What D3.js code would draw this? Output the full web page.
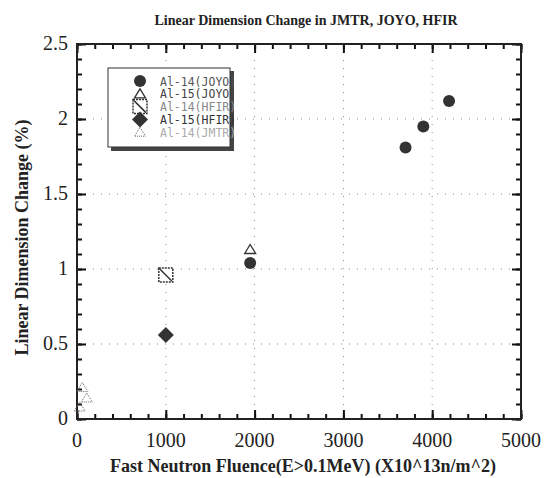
<!DOCTYPE html>
<html lang="en">
<head>
  <meta charset="UTF-8">
  <title>Linear Dimension Change in JMTR, JOYO, HFIR</title>
  <script src="https://d3js.org/d3.v7.min.js"></script>
  <style>
    body { margin: 0; background: #fff; }
    svg text { font-family: "Liberation Serif", "DejaVu Serif", serif; fill: #222; }
    .legend text { font-family: "DejaVu Sans Mono", monospace; }
    .grid line { stroke: #888; stroke-width: 1; stroke-dasharray: 1 7; }
    .ax .domain { display: none; }
    .ax line { stroke: #111; stroke-width: 2; }
  </style>
</head>
<body>
  <div id="chart"></div>
  <script>
    // series values
    const al14Joyo = [[1950, 1.04], [3700, 1.81], [3900, 1.95], [4190, 2.12]];
    const al15Joyo = [[1950, 1.13]];
    const al14Hfir = [[1000, 0.96]];
    const al15Hfir = [[1000, 0.56]];
    const al14Jmtr = [[60, 0.21], [110, 0.14], [30, 0.08]];

    const xTicks = [0, 1000, 2000, 3000, 4000, 5000];
    const yTicks = [0, 0.5, 1, 1.5, 2, 2.5];
    const yTickLabels = ["0", "0.5", "1", "1.5", "2", "2.5"];
    const legendLabels = ["Al-14(JOYO)", "Al-15(JOYO)", "Al-14(HFIR)", "Al-15(HFIR)", "Al-14(JMTR)"];

    const width = 555, height = 478;
    const margin = { top: 44, right: 34, bottom: 59, left: 77 };
    const plotW = width - margin.left - margin.right;
    const plotH = height - margin.top - margin.bottom;

    const svg = d3.select("#chart").append("svg")
      .attr("width", width)
      .attr("height", height);

    const g = svg.append("g")
      .attr("transform", `translate(${margin.left},${margin.top})`);

    const x = d3.scaleLinear().domain([0, 5000]).range([0, plotW]);
    const y = d3.scaleLinear().domain([0, 2.5]).range([plotH, 0]);

    // dotted grid at major ticks
    const grid = g.append("g").attr("class", "grid");
    grid.selectAll(".gx").data(xTicks.slice(1, -1)).enter().append("line")
      .attr("class", "gx")
      .attr("x1", d => x(d)).attr("x2", d => x(d))
      .attr("y1", 0).attr("y2", plotH);
    grid.selectAll(".gy").data(yTicks.slice(1, -1)).enter().append("line")
      .attr("class", "gy")
      .attr("y1", d => y(d)).attr("y2", d => y(d))
      .attr("x1", 0).attr("x2", plotW);

    // inward ticks on all four sides (minor, then major)
    const minorX = d3.range(0, 26).map(i => i * 200);
    const minorY = d3.range(0, 26).map(i => i / 10);

    function addAxis(axisFn, scale, values, size, tf) {
      g.append("g").attr("class", "ax").attr("transform", tf)
        .call(axisFn(scale).tickValues(values).tickSize(size).tickFormat(""));
    }
    addAxis(d3.axisBottom, x, minorX, -5, `translate(0,${plotH})`);
    addAxis(d3.axisBottom, x, xTicks, -9, `translate(0,${plotH})`);
    addAxis(d3.axisTop, x, minorX, -5, "translate(0,0)");
    addAxis(d3.axisTop, x, xTicks, -9, "translate(0,0)");
    addAxis(d3.axisLeft, y, minorY, -5, "translate(0,0)");
    addAxis(d3.axisLeft, y, yTicks, -9, "translate(0,0)");
    addAxis(d3.axisRight, y, minorY, -5, `translate(${plotW},0)`);
    addAxis(d3.axisRight, y, yTicks, -9, `translate(${plotW},0)`);

    // frame
    g.append("rect")
      .attr("width", plotW).attr("height", plotH)
      .attr("fill", "none").attr("stroke", "#222").attr("stroke-width", 2);

    // tick labels
    g.selectAll(".xl").data(xTicks).enter().append("text")
      .attr("x", d => x(d)).attr("y", plotH + 28)
      .attr("text-anchor", "middle").attr("font-size", 20)
      .text(d => d);
    g.selectAll(".yl").data(yTicks).enter().append("text")
      .attr("x", -9).attr("y", d => y(d) + 6)
      .attr("text-anchor", "end").attr("font-size", 20)
      .text((d, i) => yTickLabels[i]);

    // titles
    svg.append("text")
      .attr("x", 306).attr("y", 25)
      .attr("text-anchor", "middle").attr("font-size", 14).attr("font-weight", "bold")
      .text("Linear Dimension Change in JMTR, JOYO, HFIR");
    svg.append("text")
      .attr("x", 303).attr("y", 472)
      .attr("text-anchor", "middle").attr("font-size", 18).attr("font-weight", "bold")
      .text("Fast Neutron Fluence(E>0.1MeV) (X10^13n/m^2)");
    svg.append("text")
      .attr("transform", `translate(28,${margin.top + plotH / 2 + 6}) rotate(-90)`)
      .attr("text-anchor", "middle").attr("font-size", 18).attr("font-weight", "bold")
      .text("Linear Dimension Change (%)");

    // marker drawers
    const dark = "#333";
    function drawCircle(sel) {
      sel.append("circle").attr("r", 6).attr("fill", dark);
    }
    function drawOpenTriangle(sel) {
      sel.append("path").attr("d", "M0,-5L5.5,4L-5.5,4Z")
        .attr("fill", "#fff").attr("stroke", dark).attr("stroke-width", 1.3);
    }
    function drawSquare(sel) {
      sel.append("rect").attr("x", -7).attr("y", -7).attr("width", 14).attr("height", 14)
        .attr("fill", "#fff").attr("stroke", dark).attr("stroke-width", 1.5)
        .attr("stroke-dasharray", "2 1");
      sel.append("line").attr("x1", -6).attr("y1", -6).attr("x2", 6).attr("y2", 6)
        .attr("stroke", dark).attr("stroke-width", 1.5);
    }
    function drawDiamond(sel) {
      sel.append("path").attr("d", "M0,-8L8,0L0,8L-8,0Z").attr("fill", dark);
    }
    function drawFaintTriangle(sel) {
      sel.append("path").attr("d", "M0,-5L5.5,4L-5.5,4Z")
        .attr("fill", "none").attr("stroke", "#666").attr("stroke-width", 1)
        .attr("stroke-dasharray", "1 1");
    }

    const series = [
      { data: al14Joyo, draw: drawCircle },
      { data: al15Joyo, draw: drawOpenTriangle },
      { data: al14Hfir, draw: drawSquare },
      { data: al15Hfir, draw: drawDiamond },
      { data: al14Jmtr, draw: drawFaintTriangle }
    ];

    series.forEach(s => {
      g.selectAll(null).data(s.data).enter().append("g")
        .attr("transform", d => `translate(${x(d[0])},${y(d[1])})`)
        .each(function () { s.draw(d3.select(this)); });
    });

    // legend
    const legend = svg.append("g").attr("class", "legend").attr("transform", "translate(108,68)");
    legend.append("rect").attr("x", 3).attr("y", 3).attr("width", 123).attr("height", 80).attr("fill", "#444");
    legend.append("rect").attr("width", 122).attr("height", 79)
      .attr("fill", "#fff").attr("stroke", "#333").attr("stroke-width", 1);
    const textColors = ["#555", "#444", "#888", "#333", "#aaa"];
    legendLabels.forEach((lab, i) => {
      const row = legend.append("g").attr("transform", `translate(0,${13 + i * 12.8})`);
      const m = row.append("g").attr("transform", "translate(32,0)");
      series[i].draw(m);
      row.append("text").attr("x", 52).attr("y", 4.5)
        .attr("font-size", 11.5)
        .style("fill", textColors[i])
        .text(lab);
    });
  </script>
</body>
</html>
